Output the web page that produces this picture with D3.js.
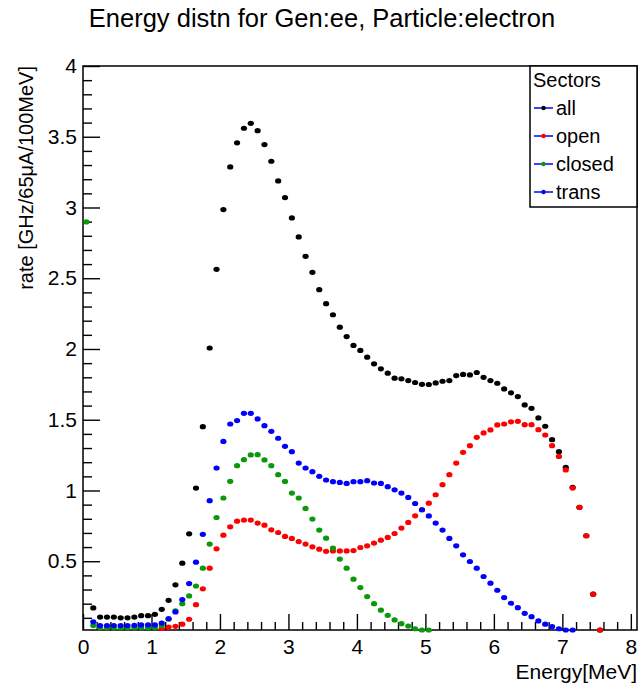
<!DOCTYPE html>
<html>
<head>
<meta charset="utf-8">
<script src="https://cdn.jsdelivr.net/npm/d3@7"></script>
<style>
  body { margin: 0; background: #fff; }
  svg text { font-family: "Liberation Sans", Arial, Helvetica, sans-serif; fill: #000; }
</style>
</head>
<body>
<svg id="svg-energy" width="638" height="683"></svg>
<script>
// bin centres [MeV]
var energy = [0.05,0.15,0.25,0.35,0.45,0.55,0.65,0.75,0.85,0.95,
	1.05,1.15,1.25,1.35,1.45,1.55,1.65,1.75,1.85,1.95,
	2.05,2.15,2.25,2.35,2.45,2.55,2.65,2.75,2.85,2.95,
	3.05,3.15,3.25,3.35,3.45,3.55,3.65,3.75,3.85,3.95,
	4.05,4.15,4.25,4.35,4.45,4.55,4.65,4.75,4.85,4.95,
	5.05,5.15,5.25,5.35,5.45,5.55,5.65,5.75,5.85,5.95,
	6.05,6.15,6.25,6.35,6.45,6.55,6.65,6.75,6.85,6.95,
	7.05,7.15,7.25,7.35,7.45,7.55];

var allRate = [null,0.17,0.105,0.105,0.105,0.10,0.10,0.105,0.115,0.115,
	0.125,0.16,0.224,0.333,0.486,0.694,1.017,1.451,2.007,2.563,
	2.985,3.287,3.457,3.56,3.595,3.543,3.445,3.327,3.188,3.07,
	2.926,2.792,2.655,2.542,2.419,2.32,2.242,2.154,2.088,2.025,
	1.99,1.942,1.895,1.86,1.829,1.794,1.789,1.777,1.763,1.75,
	1.749,1.76,1.772,1.777,1.812,1.82,1.817,1.834,1.8,1.777,
	1.758,1.718,1.69,1.664,1.605,1.581,1.513,1.454,1.359,1.274,
	1.163,1.022,0.88,0.68,0.267,0.01];

var openRate = [null,null,null,null,null,null,null,null,null,null,
	null,0.025,0.035,0.04,0.055,0.09,0.193,0.305,0.451,0.588,
	0.684,0.743,0.783,0.791,0.791,0.77,0.755,0.722,0.703,0.675,
	0.661,0.639,0.621,0.602,0.585,0.57,0.573,0.573,0.573,0.575,
	0.597,0.609,0.628,0.649,0.668,0.696,0.734,0.774,0.821,0.864,
	0.91,0.97,1.041,1.112,1.194,1.27,1.317,1.376,1.407,1.428,
	1.463,1.47,1.485,1.489,1.465,1.465,1.43,1.392,1.317,1.241,
	1.145,1.017,0.88,0.68,0.267,0.01];

var closedRate = [2.898,0.045,0.03,0.03,0.03,0.03,0.03,0.03,0.03,0.03,
	0.03,0.045,0.09,0.15,0.2,0.255,0.325,0.451,0.621,0.809,
	0.947,1.065,1.175,1.218,1.251,1.253,1.216,1.175,1.112,1.064,
	0.982,0.947,0.873,0.798,0.72,0.663,0.593,0.515,0.451,0.373,
	0.314,0.25,0.2,0.154,0.118,0.085,0.059,0.042,0.023,0.014,
	0.007,null,null,null,null,null,null,null,null,null,
	null,null,null,null,null,null,null,null,null,null,
	null,null,null,null,null,null];

var transRate = [null,0.072,0.045,0.045,0.045,0.045,0.045,0.047,0.05,0.05,
	0.05,0.063,0.095,0.142,0.229,0.342,0.493,0.69,0.928,1.159,
	1.347,1.47,1.494,1.545,1.545,1.506,1.458,1.418,1.369,1.312,
	1.274,1.194,1.159,1.133,1.1,1.074,1.062,1.057,1.05,1.062,
	1.062,1.069,1.053,1.05,1.027,1.005,0.982,0.951,0.908,0.864,
	0.82,0.77,0.72,0.661,0.609,0.545,0.498,0.451,0.392,0.345,
	0.295,0.243,0.203,0.172,0.132,0.108,0.078,0.055,0.038,0.023,
	0.014,0.004,null,null,null,null];

var seriesNames = ["all", "open", "closed", "trans"];
var seriesColors = ["#000000", "#ff0000", "#0a990a", "#0000ff"];
var seriesValues = [allRate, openRate, closedRate, transRate];

var xTicks = [0, 1, 2, 3, 4, 5, 6, 7, 8];
var yTicks = [0.5, 1, 1.5, 2, 2.5, 3, 3.5, 4];

var svg = d3.select("svg#svg-energy"),
	margin = {top: 66, right: 1, bottom: 53, left: 83},
	width = svg.attr("width") - margin.left - margin.right,
	height = svg.attr("height") - margin.top - margin.bottom,
	g = svg.append("g").attr("transform", "translate(" + margin.left + "," + margin.top + ")");

// scales
var x = d3.scaleLinear().domain([0, 8.09]).range([0, width]);
var y = d3.scaleLinear().domain([0.014, 4]).range([height, 0]).clamp(true);

// minor ticks
var xMinor = d3.range(0.2, 8.01, 0.2).filter(function (d) { return Math.abs(d - Math.round(d)) > 1e-6; });
var yMinor = d3.range(0.1, 4.0, 0.1).filter(function (d) { return Math.abs(d * 2 - Math.round(d * 2)) > 1e-6; });

g.append("g")
	.attr("class", "minor")
	.attr("transform", "translate(0," + height + ")")
	.call(d3.axisBottom(x).tickValues(xMinor).tickSize(-8).tickFormat(""));

g.append("g")
	.attr("class", "minor")
	.call(d3.axisLeft(y).tickValues(yMinor).tickSize(-9).tickFormat(""));

// major ticks + labels
g.append("g")
	.attr("class", "xaxis")
	.attr("transform", "translate(0," + height + ")")
	.call(d3.axisBottom(x).tickValues(xTicks).tickSize(-16).tickPadding(9).tickFormat(d3.format("d")));

g.append("g")
	.attr("class", "yaxis")
	.call(d3.axisLeft(y).tickValues(yTicks).tickSize(-17).tickPadding(6).tickFormat(function (d) { return String(d); }));

g.selectAll(".domain").remove();
g.selectAll(".tick line").attr("stroke", "#000").attr("stroke-width", 1.4);
g.selectAll(".xaxis text, .yaxis text").attr("font-size", "21px").attr("fill", "#000");

// frame
g.append("rect")
	.attr("width", width)
	.attr("height", height)
	.attr("fill", "none")
	.attr("stroke", "#000")
	.attr("stroke-width", 1.5);

// markers
seriesValues.forEach(function (vals, i) {
	var pts = energy.map(function (e, j) { return {e: e, v: vals[j]}; })
		.filter(function (d) { return d.v != null; });
	g.append("g")
		.attr("class", "series-" + seriesNames[i])
		.selectAll("ellipse")
		.data(pts)
		.enter().append("ellipse")
		.attr("cx", function (d) { return x(d.e); })
		.attr("cy", function (d) { return y(d.v); })
		.attr("rx", 3.1)
		.attr("ry", 2.6)
		.attr("fill", seriesColors[i]);
});

// title
svg.append("text")
	.attr("x", 322)
	.attr("y", 27)
	.attr("text-anchor", "middle")
	.attr("font-size", "25.5px")
	.text("Energy distn for Gen:ee, Particle:electron");

// axis titles
svg.append("text")
	.attr("x", margin.left + width)
	.attr("y", 679)
	.attr("text-anchor", "end")
	.attr("font-size", "21px")
	.text("Energy[MeV]");

svg.append("text")
	.attr("transform", "translate(33," + margin.top + ") rotate(-90)")
	.attr("text-anchor", "end")
	.attr("font-size", "20px")
	.text("rate [GHz/65\u03bcA/100MeV]");

// legend
var lx = 530, ly = margin.top, lw = margin.left + width - lx, lh = 141;
var legend = svg.append("g").attr("class", "legend");
legend.append("rect")
	.attr("x", lx)
	.attr("y", ly)
	.attr("width", lw)
	.attr("height", lh)
	.attr("fill", "#fff")
	.attr("stroke", "#000")
	.attr("stroke-width", 1.5);
legend.append("text")
	.attr("x", lx + 3)
	.attr("y", ly + 21)
	.attr("font-size", "20px")
	.text("Sectors");

var entry = legend.selectAll("g.entry")
	.data(seriesNames)
	.enter().append("g")
	.attr("class", "entry")
	.attr("transform", function (d, i) { return "translate(" + lx + "," + (ly + 42 + i * 28) + ")"; });
entry.append("line")
	.attr("x1", 4).attr("x2", 23)
	.attr("y1", 0).attr("y2", 0)
	.attr("stroke", "#0000ff")
	.attr("stroke-width", 1.5);
entry.append("circle")
	.attr("cx", 13.5)
	.attr("cy", 0)
	.attr("r", 2.2)
	.attr("fill", function (d, i) { return seriesColors[i]; });
entry.append("text")
	.attr("x", 26)
	.attr("y", 7)
	.attr("font-size", "20px")
	.text(function (d) { return d; });
</script>
</body>
</html>
